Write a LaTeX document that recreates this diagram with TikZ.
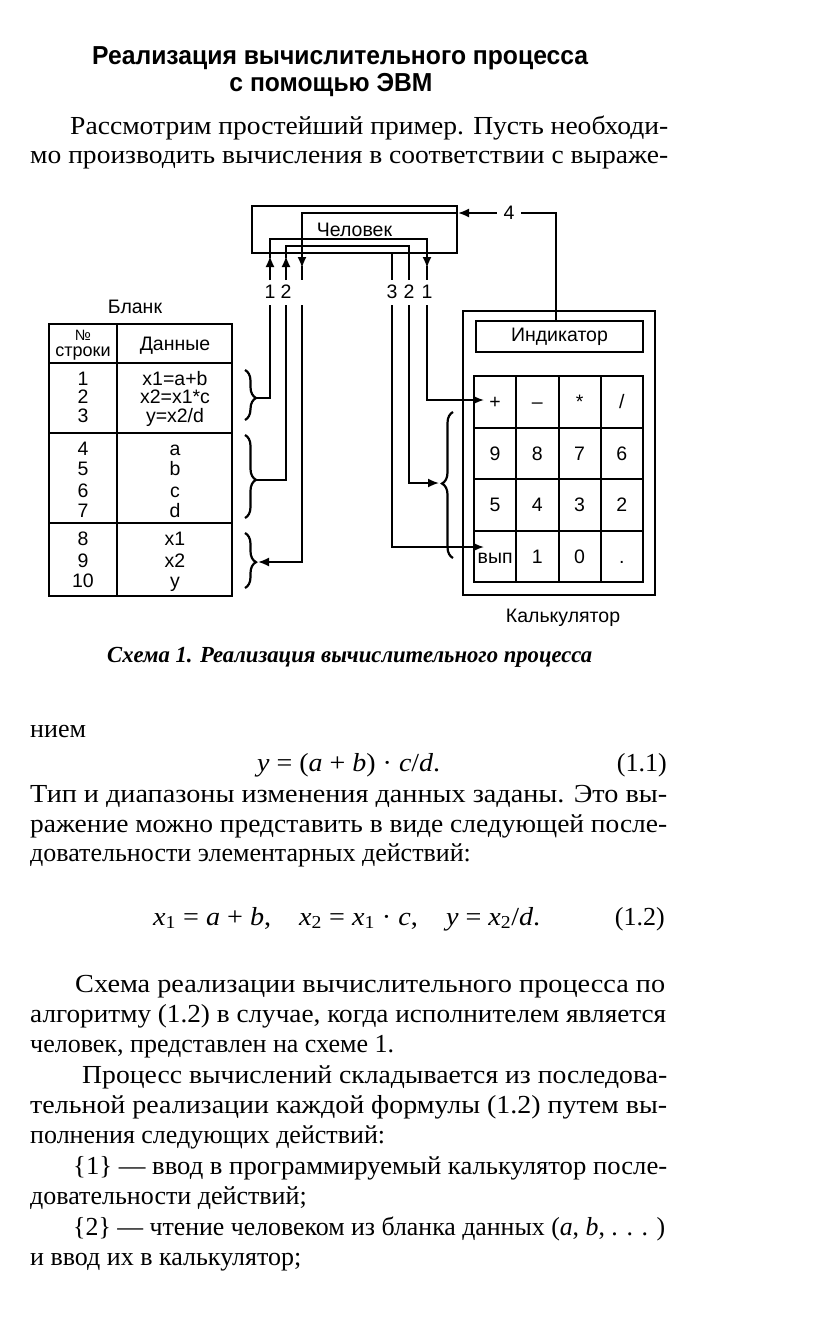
\documentclass[tikz,border=0pt]{standalone}
\usepackage{graphicx}
\usepackage{fontspec}
\setmainfont{Liberation Serif}
\newfontfamily\dsans{Liberation Sans}
\usetikzlibrary{arrows.meta,decorations.pathreplacing}
\newcommand\jl[2]{\resizebox{#1pt}{\height}{#2}}
\newcommand\nl[1]{\scalebox{1.0}[1]{#1}}
\tikzset{
  wire/.style={line width=1.8pt},
  arr/.style={wire,-{Latex[length=11pt,width=9pt]}},
  box/.style={draw,line width=2pt,inner sep=0pt},
  lbl/.style={font=\dsans\fontsize{19.5}{21}\selectfont,inner sep=0pt},
  keybox/.style={box,lbl,minimum width=42.25pt,minimum height=51.5pt,text height=14pt,text depth=0pt},
  body/.style={font=\fontsize{26}{30}\selectfont,inner sep=0pt,anchor=base west},
  brc/.style={decorate,decoration={brace,amplitude=11pt,aspect=#1},line width=2.2pt},
  brc/.default=0.5
}
\begin{document}
\begin{tikzpicture}[x=1pt,y=-1pt]
\useasboundingbox (0,0) rectangle (816,1317);
\fill[white] (0,0) rectangle (816,1317);

% ---------- title ----------
\node[inner sep=0pt,anchor=base west,font=\dsans\bfseries\fontsize{26}{30}\selectfont] (t1) at (92,64)
  {\jl{496}{Реализация вычислительного процесса}};
\node[inner sep=0pt,anchor=base,font=\dsans\bfseries\fontsize{26}{30}\selectfont] (t2) at (331,91)
  {\jl{203}{с помощью ЭВМ}};

\node[body] (p1) at (70,134) {\jl{598}{Рассмотрим простейший пример. Пусть необходи-}};
\node[body] (p2) at (30,163) {\jl{638}{мо производить вычисления в соответствии с выраже-}};

% ---------- human ----------
\node[box,lbl,minimum width=205pt,minimum height=47pt] (human) at (354.5,229.5) {Человек};

% ---------- table ----------
\node[inner sep=0pt,anchor=base,lbl] (blank) at (135,313) {Бланк};
\node[box,line width=2.4pt,minimum width=183pt,minimum height=272pt] (tbl) at (140.5,460) {};
\draw[line width=2.2pt] (117,324) -- (117,596);
\draw[line width=2.2pt] (49,363) -- (232,363);
\draw[line width=2.2pt] (49,433) -- (232,433);
\draw[line width=2.2pt] (49,523) -- (232,523);
\node[lbl,anchor=base,font=\dsans\fontsize{15}{16}\selectfont] (hno) at (83,340) {№};
\node[lbl,anchor=base,font=\dsans\fontsize{18}{20}\selectfont] (hstr) at (83,356) {строки};
\node[lbl,anchor=base] (hdat) at (175,350) {Данные};
\foreach \n/\d/\y [count=\i] in {1/{x1=a+b}/385, 2/{x2=x1*c}/403, 3/{y=x2/d}/422,
   4/{a}/455, 5/{b}/475, 6/{c}/497, 7/{d}/517, 8/{x1}/545, 9/{x2}/567, 10/{y}/587} {
  \node[lbl,anchor=base] (rn\i) at (83,\y) {\n};
  \node[lbl,anchor=base] (rd\i) at (175,\y) {\d};
}
\draw[brc=0.56] (245,370) -- (245,420);
\draw[brc=0.54] (245,435) -- (245,518);
\draw[brc=0.53] (245,533) -- (245,588);
\coordinate (b1) at (256,398);
\coordinate (b2) at (256,480);
\coordinate (b3) at (258,562);

% ---------- calculator ----------
\node[box,minimum width=192pt,minimum height=284pt] (calc) at (559,453) {};
\node[box,lbl,minimum width=167pt,minimum height=31pt] (ind) at (559.5,336.5) {Индикатор};
\foreach \t [count=\i from 0] in {+,–,*,/,9,8,7,6,5,4,3,2,вып,1,0,.} {
  \pgfmathsetmacro\cx{474+42.25*(mod(\i,4)+0.5)}
  \pgfmathsetmacro\cy{376+51.5*(int(\i/4)+0.5)}
  \node[keybox] (k\i) at (\cx,\cy) {\t};
}
\node[lbl,anchor=base] (calcl) at (563,622) {Калькулятор};
\draw[brc=0.51] (453,558) -- (453,412);
\coordinate (kb) at (439,483);
\coordinate (kplus) at (484,400);
\coordinate (kvyp) at (484,547);
\coordinate (i4) at (556,321);

% ---------- wires ----------
% 1: instructions -> human -> "+"
\draw[wire] (b1) -- (270,398) -- (270,305);
\draw[arr] (270,280) -- (270,256);
\draw[wire] (270,258) -- (270,239) -- (427,239) -- (427,256);
\draw[arr] (427,250) -- (427,268);
\draw[wire] (427,266) -- (427,280);
\draw[arr] (427,305) -- (427,400) -- (kplus);
% 2: data -> human -> keypad
\draw[wire] (b2) -- (286,480) -- (286,305);
\draw[arr] (286,280) -- (286,256);
\draw[wire] (286,258) -- (286,246) -- (409,246) -- (409,280);
\draw[arr] (409,305) -- (409,483) -- (kb);
% 3: human -> "вып"
\draw[wire] (392,253) -- (392,280);
\draw[arr] (392,305) -- (392,547) -- (kvyp);
% 4: indicator -> human -> results
\draw[arr] (i4) -- (556,213) -- (human.east |- 0,213);
\node[lbl,fill=white,inner xsep=7pt,inner ysep=2pt] (n4) at (509,213) {4};
\draw[wire] (human.east |- 0,213) -- (302,213) -- (302,256);
\draw[arr] (302,250) -- (302,268);
\draw[wire] (302,266) -- (302,280);
\draw[arr] (302,305) -- (302,562) -- (b3);
% labels
\node[lbl] (l1a) at (270,292) {1};
\node[lbl] (l2a) at (286,292) {2};
\node[lbl] (l3b) at (392,292) {3};
\node[lbl] (l2b) at (409,292) {2};
\node[lbl] (l1b) at (427,292) {1};

% ---------- caption ----------
\node[inner sep=0pt,anchor=base west,font=\bfseries\itshape\fontsize{23}{27}\selectfont] (cap) at (107,662)
  {\jl{485}{Схема 1. Реализация вычислительного процесса}};

% ---------- text ----------
\node[body] (q1) at (30,737) {\nl{нием}};
\node[body] (f1) at (257,771) {\jl{183}{\textit{y} = (\textit{a} + \textit{b}) · \textit{c}/\textit{d}.}};
\node[body,anchor=base east] (e1) at (667,771) {(1.1)};
\node[body] (q2) at (30,802) {\jl{637}{Тип и диапазоны изменения данных заданы. Это вы-}};
\node[body] (q3) at (30,832) {\jl{637}{ражение можно представить в виде следующей после-}};
\node[body] (q4) at (30,861) {\nl{довательности элементарных действий:}};
\node[body] (f2) at (153,925) {\jl{387}{\textit{x}\textsubscript{1} = \textit{a} + \textit{b},\quad \textit{x}\textsubscript{2} = \textit{x}\textsubscript{1} · \textit{c},\quad \textit{y} = \textit{x}\textsubscript{2}/\textit{d}.}};
\node[body,anchor=base east] (e2) at (665,925) {(1.2)};
\node[body] (q5) at (75,992) {\jl{590}{Схема реализации вычислительного процесса по}};
\node[body] (q6) at (30,1022) {\jl{636}{алгоритму (1.2) в случае, когда исполнителем является}};
\node[body] (q7) at (30,1052) {\nl{человек, представлен на схеме 1.}};
\node[body] (q8) at (82,1083) {\jl{585}{Процесс вычислений складывается из последова-}};
\node[body] (q9) at (30,1113) {\jl{637}{тельной реализации каждой формулы (1.2) путем вы-}};
\node[body] (q10) at (30,1143) {\nl{полнения следующих действий:}};
\node[body] (q11) at (73,1174) {\jl{594}{\{1\} — ввод в программируемый калькулятор после-}};
\node[body] (q12) at (30,1204) {\nl{довательности действий;}};
\node[body] (q13) at (73,1235) {\jl{592}{\{2\} — чтение человеком из бланка данных (\textit{a}, \textit{b}, . . . )}};
\node[body] (q14) at (30,1265) {\nl{и ввод их в калькулятор;}};
\end{tikzpicture}
\end{document}
